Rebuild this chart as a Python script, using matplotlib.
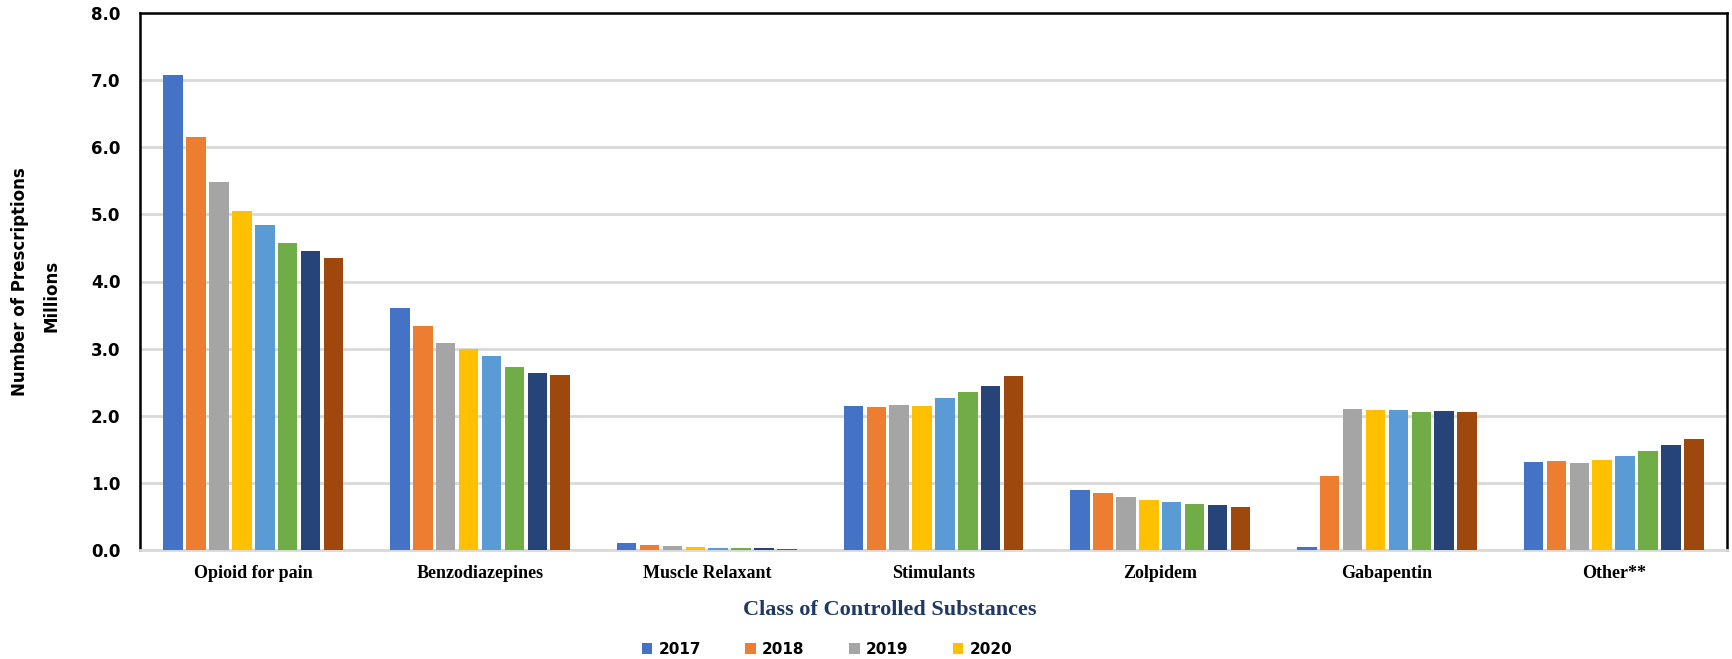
import numpy as np
import matplotlib
matplotlib.use("Agg")
import matplotlib.pyplot as plt

# data (millions of prescriptions)
categories = ["Opioid for pain", "Benzodiazepines", "Muscle Relaxant", "Stimulants",
              "Zolpidem", "Gabapentin", "Other**"]
years = ["2017", "2018", "2019", "2020", "2021", "2022", "2023", "2024"]
v2017 = [7.08, 3.61, 0.10, 2.15, 0.90, 0.05, 1.31]
v2018 = [6.15, 3.33, 0.08, 2.13, 0.85, 1.10, 1.33]
v2019 = [5.48, 3.09, 0.06, 2.16, 0.79, 2.10, 1.30]
v2020 = [5.05, 3.00, 0.05, 2.15, 0.75, 2.09, 1.34]
v2021 = [4.84, 2.89, 0.03, 2.26, 0.72, 2.08, 1.40]
v2022 = [4.57, 2.73, 0.03, 2.36, 0.68, 2.06, 1.48]
v2023 = [4.45, 2.64, 0.03, 2.45, 0.67, 2.07, 1.56]
v2024 = [4.35, 2.60, 0.02, 2.59, 0.64, 2.06, 1.66]
series = [v2017, v2018, v2019, v2020, v2021, v2022, v2023, v2024]
colors = ["#4472C4", "#ED7D31", "#A5A5A5", "#FFC000", "#5B9BD5", "#70AD47", "#264478", "#9E480E"]

fig = plt.figure(figsize=(17.33, 6.59), dpi=100)
ax = fig.add_axes([140 / 1733, 1 - 550 / 659, (1727 - 140) / 1733, (550 - 13) / 659])

x = np.arange(len(categories))
slot = 0.101
width = 0.086
handles = []
for i, (vals, c) in enumerate(zip(series, colors)):
    b = ax.bar(x + (i - 3.5) * slot, vals, width, color=c, zorder=3, label=years[i])
    handles.append(b)

ax.set_xlim(-0.5, len(categories) - 0.5)
ax.set_ylim(0, 8)
ax.set_yticks(np.arange(0, 8.1, 1.0))
ax.set_yticklabels([f"{t:.1f}" for t in np.arange(0, 8.1, 1.0)],
                   fontsize=12, fontweight="bold", family="DejaVu Sans")
ax.set_xticks(x)
ax.set_xticklabels(categories, fontsize=13, fontweight="bold", family="Liberation Serif")
ax.tick_params(axis="both", length=0)
ax.tick_params(axis="x", pad=11)
ax.tick_params(axis="y", pad=14)

ax.grid(axis="y", color="#D9D9D9", linewidth=2, zorder=0)
for s in ["left", "top", "right"]:
    ax.spines[s].set_color("black")
    ax.spines[s].set_linewidth(1.8)
ax.spines["bottom"].set_color("#D9D9D9")
ax.spines["bottom"].set_linewidth(2)

fig.text(890 / 1733, 1 - 610 / 659, "Class of Controlled Substances", ha="center", va="center",
         fontsize=16, fontweight="bold", family="Liberation Serif", color="#1F3864")
fig.text(20 / 1733, 1 - 282 / 659, "Number of Prescriptions", rotation=90, ha="center",
         va="center", fontsize=12, fontweight="bold", family="DejaVu Sans")
fig.text(52 / 1733, 1 - 296 / 659, "Millions", rotation=90, ha="center",
         va="center", fontsize=12, fontweight="bold", family="DejaVu Sans")

# legend shows only the first four years, as in the original
fig.legend(handles[:4], years[:4], loc="center", bbox_to_anchor=(827 / 1733, 1 - 649 / 659),
           ncol=4, frameon=False, prop={"weight": "bold", "size": 11, "family": "DejaVu Sans"},
           handlelength=0.7, handleheight=0.7, columnspacing=2.9, handletextpad=0.4)

fig.savefig("out.png", dpi=100, facecolor="white")
